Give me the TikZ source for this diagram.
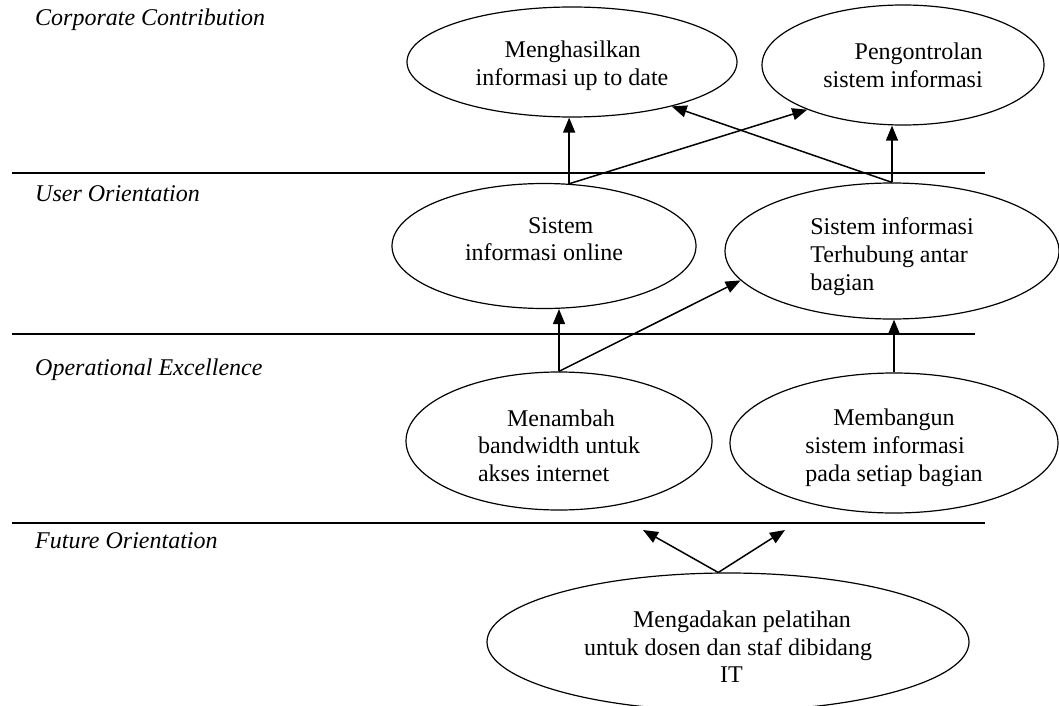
\documentclass[tikz,border=0pt]{standalone}
\usepackage{fontspec}
\setmainfont{Liberation Serif}
\usetikzlibrary{shapes.geometric,arrows.meta}

% padding to move the text of a goal down or up
\newcommand{\toppad}[1]{\rule{0pt}{#1}}
\newcommand{\botpad}[1]{\rule[-#1]{0pt}{#1}}

\begin{document}
\begin{tikzpicture}[x=1pt,y=-1pt,
    goal/.style={ellipse,draw,line width=1.2pt,inner sep=0pt,font=\fontsize{24}{27.6}\selectfont},
    layer/.style={anchor=base west,inner sep=0pt,font=\fontsize{24}{27.6}\selectfont\itshape},
    arr/.style={line width=1.5pt,-{Triangle[length=15pt,width=12pt]}},
    sep/.style={line width=1.6pt}]
    \useasboundingbox (0,0) rectangle (1059,706);

    % Draw the layer lines and titles
    \draw[sep] (12,173) -- (985,173);
    \draw[sep] (12,334) -- (975,334);
    \draw[sep] (12,523) -- (985,523);
    \node[layer] (corp) at (35,26) {Corporate Contribution};
    \node[layer] (user) at (35,201) {User Orientation};
    \node[layer] (oper) at (35,375) {Operational Excellence};
    \node[layer] (futr) at (35,548) {Future Orientation};

    % Add the goals
    \node[goal,minimum width=330,minimum height=110,align=left] (info) at (572,62)
        {\hspace*{29pt}\toppad{24pt}Menghasilkan\\informasi up to date};
    \node[goal,minimum width=282,minimum height=120,align=right] (ctrl) at (903,65)
        {Pengontrolan\\sistem informasi};
    \node[goal,minimum width=304,minimum height=125,align=left] (sio) at (544,246)
        {\hspace*{63pt}Sistem\\informasi online\botpad{14pt}};
    \node[goal,minimum width=334,minimum height=136,align=left] (link) at (892,251)
        {\toppad{28pt}Sistem informasi\\Terhubung antar\\bagian};
    \node[goal,minimum width=306,minimum height=138,align=left] (bw) at (559,441)
        {\hspace*{29pt}\toppad{26pt}Menambah\\bandwidth untuk\\akses internet};
    \node[goal,minimum width=328,minimum height=140,align=left] (build) at (894,443)
        {\hspace*{28pt}\toppad{26pt}Membangun\\sistem informasi\\pada setiap bagian};
    \node[goal,minimum width=482,minimum height=138,align=left] (train) at (728,642)
        {\hspace*{49pt}\toppad{26pt}Mengadakan pelatihan\\untuk dosen dan staf dibidang\\\hspace*{136pt}IT};

    % Draw the arrows
    \draw[arr] (sio.68) -- (sio.68 |- info.south);
    \draw[arr] (sio.68) -- (ctrl.205);
    \draw[arr] (link.north) -- (info.-24);
    \draw[arr] (link.north) -- (link.north |- ctrl.south);
    \draw[arr] (bw.north) -- (bw.north |- sio.south);
    \draw[arr] (bw.north) -- (link.191);
    \draw[arr] (build.north) -- (build.north |- link.south);
    \coordinate (up1) at (643,530);
    \coordinate (up2) at (785,530);
    \draw[arr] (train.98) -- (up1);
    \draw[arr] (train.98) -- (up2);
\end{tikzpicture}
\end{document}
